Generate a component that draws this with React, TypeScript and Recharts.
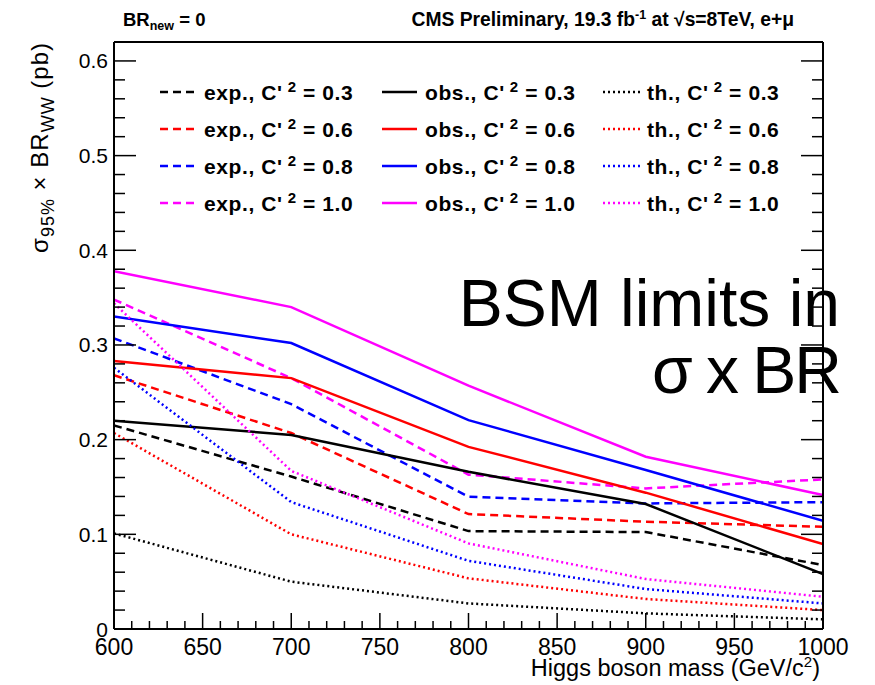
import React from 'react';
import { LineChart, Line, XAxis, YAxis } from 'recharts';

// Higgs boson mass (GeV/c^2)
const masses = [600, 700, 800, 900, 1000];

// expected limits (pb)
const expC03 = [0.215, 0.161, 0.1034, 0.1024, 0.0675];
const expC06 = [0.268, 0.207, 0.1214, 0.1133, 0.108];
const expC08 = [0.307, 0.2375, 0.1397, 0.1326, 0.134];
const expC10 = [0.348, 0.265, 0.163, 0.1485, 0.158];

// observed limits (pb)
const obsC03 = [0.22, 0.205, 0.166, 0.132, 0.058];
const obsC06 = [0.283, 0.265, 0.1924, 0.144, 0.0897];
const obsC08 = [0.33, 0.302, 0.2206, 0.168, 0.1143];
const obsC10 = [0.378, 0.34, 0.257, 0.182, 0.1414];

// theory (pb)
const thC03 = [0.101, 0.05, 0.027, 0.0165, 0.0102];
const thC06 = [0.207, 0.1, 0.0535, 0.0317, 0.02];
const thC08 = [0.276, 0.134, 0.072, 0.0422, 0.027];
const thC10 = [0.344, 0.167, 0.0904, 0.0528, 0.034];

const couplings = ['0.3', '0.6', '0.8', '1.0'];
const colors = ['#000000', '#ff0000', '#0000ff', '#ff00ff'];

const xTicks = [
  600, 610, 620, 630, 640, 650, 660, 670, 680, 690, 700, 710, 720, 730, 740, 750, 760, 770, 780, 790, 800,
  810, 820, 830, 840, 850, 860, 870, 880, 890, 900, 910, 920, 930, 940, 950, 960, 970, 980, 990, 1000,
];
const yTicks = [
  0, 0.02, 0.04, 0.06, 0.08, 0.1, 0.12, 0.14, 0.16, 0.18, 0.2, 0.22, 0.24, 0.26, 0.28, 0.3, 0.32, 0.34,
  0.36, 0.38, 0.4, 0.42, 0.44, 0.46, 0.48, 0.5, 0.52, 0.54, 0.56, 0.58, 0.6,
];

const kinds = [
  { kind: 'exp', label: 'exp.', dash: '8 5', sets: [expC03, expC06, expC08, expC10] },
  { kind: 'obs', label: 'obs.', dash: undefined as string | undefined, sets: [obsC03, obsC06, obsC08, obsC10] },
  { kind: 'th', label: 'th.', dash: '2 3', sets: [thC03, thC06, thC08, thC10] },
];

const data = masses.map((m, i) => {
  const row: Record<string, number> = { mass: m };
  kinds.forEach((k) => k.sets.forEach((s, j) => { row[`${k.kind}${j}`] = s[i]; }));
  return row;
});

const FONT = 'Liberation Sans, Arial, Helvetica, sans-serif';

const isMajorY = (v: number) => Math.abs(v * 10 - Math.round(v * 10)) < 1e-6;

const BottomTick = (props: any) => {
  const { x, y, payload } = props;
  const v = payload.value;
  const major = v % 50 === 0;
  return (
    <g>
      <line x1={x} y1={y} x2={x} y2={y - (major ? 16 : 8)} stroke="#000" strokeWidth={1.5} />
      {major && (
        <text x={x} y={y + 26} textAnchor="middle" fontSize={23} fontFamily={FONT} fill="#000">
          {v}
        </text>
      )}
    </g>
  );
};

const TopTick = (props: any) => {
  const { x, y, payload } = props;
  const major = payload.value % 50 === 0;
  return <line x1={x} y1={y} x2={x} y2={y + (major ? 16 : 8)} stroke="#000" strokeWidth={1.5} />;
};

const LeftTick = (props: any) => {
  const { x, y, payload } = props;
  const v = payload.value;
  const major = isMajorY(v);
  return (
    <g>
      <line x1={x} y1={y} x2={x + (major ? 22 : 11)} y2={y} stroke="#000" strokeWidth={1.5} />
      {major && (
        <text x={x - 6} y={y + 7.5} textAnchor="end" fontSize={21} fontFamily={FONT} fill="#000">
          {v === 0 ? '0' : v.toFixed(1)}
        </text>
      )}
    </g>
  );
};

const RightTick = (props: any) => {
  const { x, y, payload } = props;
  const major = isMajorY(payload.value);
  return <line x1={x} y1={y} x2={x - (major ? 22 : 11)} y2={y} stroke="#000" strokeWidth={1.5} />;
};

const legendRows = [92, 129, 166, 203];
const legendCols = [
  { x1: 160, x2: 195, tx: 204 },
  { x1: 382, x2: 417, tx: 425 },
  { x1: 603, x2: 640, tx: 647 },
];

export default function App() {
  return (
    <div style={{ position: 'absolute', left: 0, top: 0, width: 875, height: 685, background: '#fff' }}>
      <LineChart
        width={875}
        height={685}
        data={data}
        margin={{ top: 32, right: 42, bottom: 26, left: 54 }}
      >
        <XAxis
          xAxisId="b"
          dataKey="mass"
          type="number"
          domain={[600, 1000]}
          allowDataOverflow
          ticks={xTicks}
          interval={0}
          tickSize={0}
          tickMargin={0}
          tickLine={false}
          axisLine={{ stroke: '#000', strokeWidth: 2 }}
          height={30}
          tick={<BottomTick />}
        />
        <XAxis
          xAxisId="t"
          orientation="top"
          type="number"
          domain={[600, 1000]}
          allowDataOverflow
          ticks={xTicks}
          interval={0}
          tickSize={0}
          tickMargin={0}
          tickLine={false}
          axisLine={{ stroke: '#000', strokeWidth: 2 }}
          height={10}
          tick={<TopTick />}
        />
        <YAxis
          yAxisId="l"
          type="number"
          domain={[0, 0.62]}
          allowDataOverflow
          ticks={yTicks}
          interval={0}
          tickSize={0}
          tickMargin={0}
          tickLine={false}
          axisLine={{ stroke: '#000', strokeWidth: 2 }}
          width={60}
          tick={<LeftTick />}
        />
        <YAxis
          yAxisId="r"
          orientation="right"
          type="number"
          domain={[0, 0.62]}
          allowDataOverflow
          ticks={yTicks}
          interval={0}
          tickSize={0}
          tickMargin={0}
          tickLine={false}
          axisLine={{ stroke: '#000', strokeWidth: 2 }}
          width={10}
          tick={<RightTick />}
        />
        {kinds.map((k) =>
          k.sets.map((_, j) => (
            <Line
              key={`${k.kind}${j}`}
              xAxisId="b"
              yAxisId="l"
              type="linear"
              dataKey={`${k.kind}${j}`}
              stroke={colors[j]}
              strokeWidth={2.5}
              strokeDasharray={k.dash}
              dot={false}
              activeDot={false}
              isAnimationActive={false}
            />
          ))
        )}
      </LineChart>
      <svg
        width={875}
        height={685}
        style={{ position: 'absolute', left: 0, top: 0, pointerEvents: 'none' }}
        fontFamily={FONT}
      >
        {/* header */}
        <text x={123} y={26} fontSize={18.5} fontWeight="bold" fill="#000">
          BR<tspan dy={4} fontSize={12.5}>new</tspan>
          <tspan dy={-4}> = 0</tspan>
        </text>
        <text x={794} y={26} fontSize={19.3} fontWeight="bold" fill="#000" textAnchor="end">
          CMS Preliminary, 19.3 fb<tspan dy={-7} fontSize={12.5}>-1</tspan>
          <tspan dy={7}> at √s=8TeV, e+μ</tspan>
        </text>
        {/* legend */}
        {kinds.map((k, c) =>
          couplings.map((cp, r) => (
            <g key={`lg${c}${r}`}>
              <line
                x1={legendCols[c].x1}
                x2={legendCols[c].x2}
                y1={legendRows[r]}
                y2={legendRows[r]}
                stroke={colors[r]}
                strokeWidth={2.5}
                strokeDasharray={k.dash}
              />
              <text
                x={legendCols[c].tx}
                y={legendRows[r] + 7.5}
                fontSize={21}
                fontWeight="bold"
                letterSpacing={0.6}
                fill="#000"
              >
                {k.label}, C'<tspan dx={5} dy={-8} fontSize={15}>2</tspan>
                <tspan dy={8}>{` = ${cp}`}</tspan>
              </text>
            </g>
          ))
        )}
        {/* overlay title */}
        <text x={840} y={326} fontSize={66} fill="#000" textAnchor="end">BSM limits in</text>
        <text x={840} y={393} fontSize={66} fill="#000" textAnchor="end" letterSpacing={-2} wordSpacing={-1}>
          σ x BR
        </text>
        {/* axis titles */}
        <text transform="translate(48, 42) rotate(-90)" fontSize={24} textAnchor="end" fill="#000" letterSpacing={1}>
          σ<tspan dy={6} fontSize={18}>95%</tspan>
          <tspan dy={-6}> × BR</tspan>
          <tspan dy={6} fontSize={18}>WW</tspan>
          <tspan dy={-6}> (pb)</tspan>
        </text>
        <text x={820} y={676} fontSize={23.5} textAnchor="end" fill="#000">
          Higgs boson mass (GeV/c<tspan dy={-9} fontSize={15}>2</tspan>
          <tspan dy={9}>)</tspan>
        </text>
      </svg>
    </div>
  );
}
